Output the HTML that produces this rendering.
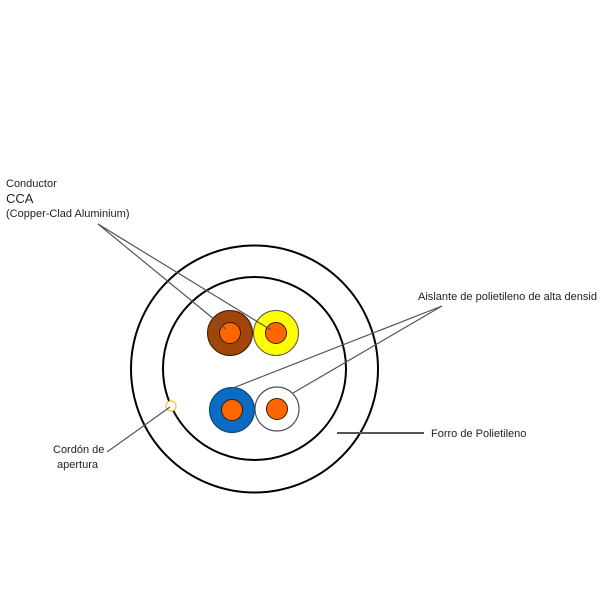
<!DOCTYPE html>
<html><head><meta charset="utf-8"><style>
html,body{margin:0;padding:0;background:#fff;width:600px;height:600px;overflow:hidden}
svg{display:block}
text{font-family:"Liberation Sans","DejaVu Sans",sans-serif;fill:#222}
</style></head><body>
<svg width="600" height="600" viewBox="0 0 600 600" xmlns="http://www.w3.org/2000/svg">
<circle cx="254.5" cy="369" r="123.5" fill="none" stroke="#000" stroke-width="2"/>
<circle cx="254.5" cy="368.5" r="91.5" fill="none" stroke="#000" stroke-width="2"/>
<circle cx="230" cy="333" r="22.5" fill="#a0460a" stroke="#3a1a05" stroke-width="1"/>
<circle cx="230" cy="333" r="10.5" fill="#ff6600" stroke="#3a1a05" stroke-width="1"/>
<circle cx="276" cy="333" r="22.5" fill="#ffff00" stroke="#555" stroke-width="1"/>
<circle cx="276" cy="333" r="10.5" fill="#ff6600" stroke="#3a1a05" stroke-width="1"/>
<circle cx="232" cy="410" r="22.5" fill="#0a6cc2" stroke="#0a3a70" stroke-width="1"/>
<circle cx="232" cy="410" r="10.5" fill="#ff6600" stroke="#3a1a05" stroke-width="1"/>
<circle cx="277" cy="409" r="22" fill="#fff" stroke="#555" stroke-width="1.2"/>
<circle cx="277" cy="409" r="10.5" fill="#ff6600" stroke="#3a1a05" stroke-width="1"/>
<circle cx="171" cy="406" r="5" fill="#fff" stroke="#f0c040" stroke-width="1.3"/>
<g stroke="#555" stroke-width="1.2" fill="none">
<line x1="98" y1="224" x2="226" y2="329"/>
<line x1="98" y1="224" x2="271" y2="330"/>
<line x1="442" y1="306" x2="233" y2="388"/>
<line x1="442" y1="306" x2="293" y2="393"/>
<line x1="107" y1="452" x2="170" y2="407"/>
<line x1="337" y1="433" x2="424" y2="433" stroke-width="2"/>
</g>
<text x="6" y="187" font-size="11">Conductor</text>
<text x="6" y="203" font-size="13">CCA</text>
<text x="6" y="217" font-size="11">(Copper-Clad Aluminium)</text>
<text x="418" y="300" font-size="11" textLength="179" lengthAdjust="spacingAndGlyphs">Aislante de polietileno de alta densid</text>
<text x="431" y="437" font-size="11">Forro de Polietileno</text>
<text x="53" y="453" font-size="11">Cordón de</text>
<text x="57" y="468" font-size="11">apertura</text>
</svg>
</body></html>
